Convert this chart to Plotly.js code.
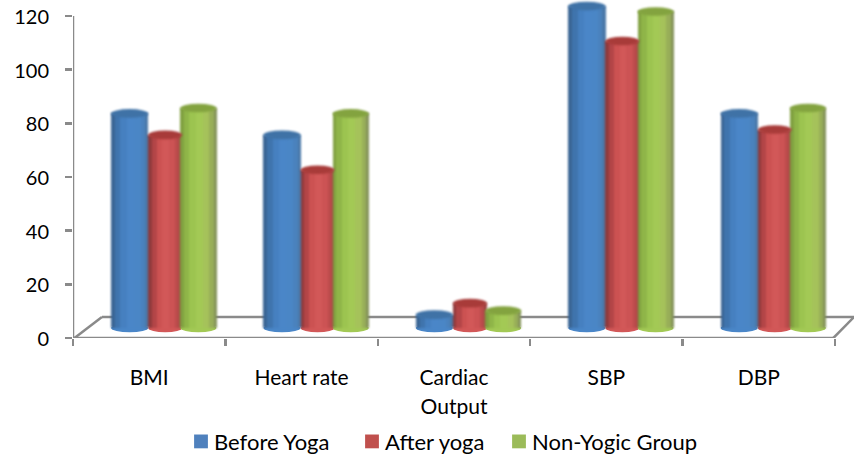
<!DOCTYPE html>
<html><head><meta charset="utf-8">
<script src="https://cdn.plot.ly/plotly-3.0.1.min.js"></script>
<style>html,body{margin:0;padding:0;background:#fff}#c{width:854px;height:456px}
.barlayer,.layer-above .shapelayer,.layer-below .shapelayer{filter:blur(0.8px)}</style></head>
<body><div id="c"></div>
<script>
var categories = ['BMI','Heart rate','Cardiac<br>Output','SBP','DBP'];
var beforeYoga = [80,72,5,120,80];
var afterYoga  = [72,59,9.3,107,74];
var nonYogic   = [82,80,6.5,118,82];
var yTicks = [0,20,40,60,80,100,120];
var seriesNames = ['Before Yoga','After yoga','Non-Yogic Group'];

var base = 3.7, capR = 1.6, gray = '#8a8a8a';
var cols = [
 {legend:'#4f81bd', cap:'#3f72a6', strips:['#3a6594','#3f74ad','#4680c0','#4a86c8','#4a86c6','#4a82bd','#4a78a8'], off:-0.25, w:0.243},
 {legend:'#c0504d', cap:'#a83b39', strips:['#8f3a3c','#b34547','#cc5252','#d25858','#cc5354','#bb4b4b','#9c4242'], off:-0.006, w:0.222},
 {legend:'#9bbb59', cap:'#83a33f', strips:['#80a040','#8fb548','#9cc450','#a3c955','#a5c25a','#98ae58','#84935a'], off:0.205, w:0.236}
];
var fracs = [0,0.1,0.25,0.42,0.62,0.8,0.92,1];
var data = [], shapes = [];
var allVals = [beforeYoga, afterYoga, nonYogic];

shapes.push({type:'line',xref:'x',yref:'y',x0:-0.5,x1:-0.5,y0:0,y1:120,line:{color:gray,width:2.5},layer:'below'});
shapes.push({type:'line',xref:'x',yref:'y',x0:-0.5,x1:4.5,y0:0,y1:0,line:{color:gray,width:2.5},layer:'below'});
shapes.push({type:'line',xref:'x',yref:'y',x0:-0.49,x1:-0.31,y0:0,y1:7.8,line:{color:gray,width:2.5},layer:'below'});
shapes.push({type:'line',xref:'x',yref:'y',x0:-0.31,x1:4.625,y0:7.8,y1:7.8,line:{color:gray,width:2.5},layer:'below'});
shapes.push({type:'line',xref:'x',yref:'y',x0:4.49,x1:4.625,y0:0,y1:7.8,line:{color:gray,width:2.5},layer:'below'});

allVals.forEach(function(vals,s){
  var c = cols[s];
  data.push({type:'bar',name:seriesNames[s],x:categories,y:vals,base:base,width:c.w,offset:c.off,
    marker:{color:c.legend,line:{width:0}},hoverinfo:'skip'});
  for(var k=0;k<c.strips.length;k++){
    data.push({type:'bar',showlegend:false,x:categories,y:vals,base:base,
      offset:c.off+c.w*fracs[k],width:c.w*(fracs[k+1]-fracs[k])+0.002,
      marker:{color:c.strips[k],line:{width:0}},hoverinfo:'skip'});
  }
  vals.forEach(function(v,i){
    shapes.push({type:'circle',xref:'x',yref:'y',x0:i+c.off,x1:i+c.off+c.w,y0:base-capR,y1:base+capR,
      fillcolor:c.strips[3],line:{width:0},layer:'below'});
    shapes.push({type:'circle',xref:'x',yref:'y',x0:i+c.off,x1:i+c.off+c.w,y0:base+v-capR,y1:base+v+capR,
      fillcolor:c.cap,line:{width:0},layer:'above'});
  });
});

var fam = 'Lato, "Open Sans", sans-serif';
var layout = {
  width:854,height:456,paper_bgcolor:'#fff',plot_bgcolor:'#fff',
  margin:{l:73,r:0,t:0,b:118,pad:0},
  barmode:'overlay',bargap:0,showlegend:true,
  legend:{orientation:'h',x:0.5,xanchor:'center',xref:'paper',y:-0.345,yanchor:'bottom',font:{family:fam,size:22,color:'#000'},traceorder:'normal',itemwidth:30,tracegroupgap:0},
  xaxis:{type:'category',range:[-0.5,4.625],tickson:'boundaries',ticks:'outside',ticklen:7,tickwidth:2.5,tickcolor:gray,
    showgrid:false,zeroline:false,showline:false,tickfont:{family:fam,size:21,color:'#000'},ticklabelstandoff:25,tickangle:0,automargin:false},
  yaxis:{range:[0,125.97],tickvals:yTicks,ticks:'outside',ticklen:7,tickwidth:2.5,tickcolor:gray,
    showgrid:false,zeroline:false,showline:false,tickfont:{family:fam,size:20,color:'#000'},ticklabelstandoff:12,automargin:false},
  shapes:shapes
};
Plotly.newPlot('c',data,layout,{displayModeBar:false,staticPlot:true}).then(function(){
  var targets = [189,360,507];
  var legend = document.querySelector('.legend');
  var left = legend.getBoundingClientRect().left;
  document.querySelectorAll('.legend .traces').forEach(function(tr,i){
    var m = (tr.getAttribute('transform')||'').match(/translate\(([^,]+),\s*([^)]+)\)/);
    var y = m?parseFloat(m[2]):0;
    tr.setAttribute('transform','translate('+(targets[i]-left-8)+','+(y+8)+')');
    var p = tr.querySelector('.legendpoints path');
    if(p){var t=p.getAttribute('transform')||'';p.setAttribute('transform',t+' scale(1.15)');}
    var tx = tr.querySelector('.legendtext');
    if(tx){tx.setAttribute('x',+tx.getAttribute('x')-7);}
  });
  var bg = document.querySelector('.legend .bg'); if(bg) bg.style.display='none';
  var sc = document.querySelector('.legend .scrollbox');
  if(sc){sc.removeAttribute('clip-path');}
  document.querySelectorAll('.xtick text').forEach(function(t){
    var lines=t.querySelectorAll('tspan.line');
    if(lines.length>1){lines[1].setAttribute('y',parseFloat(lines[1].getAttribute('y'))+2);}
  });
  document.querySelectorAll('.ytick text').forEach(function(t){
    t.setAttribute('y',parseFloat(t.getAttribute('y'))+1);
  });
});
</script></body></html>
